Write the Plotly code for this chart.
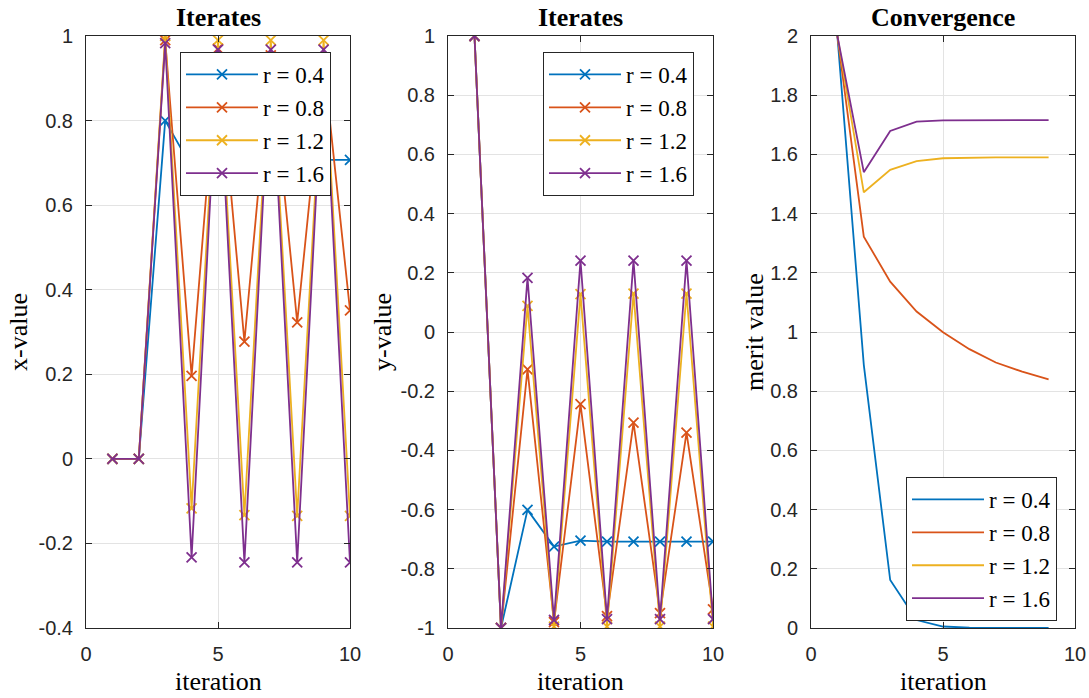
import plotly.graph_objects as go

iterations = [1, 2, 3, 4, 5, 6, 7, 8, 9, 10]
merit_iterations = [1, 2, 3, 4, 5, 6, 7, 8, 9]
labels = ["r = 0.4", "r = 0.8", "r = 1.2", "r = 1.6"]
colors = ["#0072BD", "#D95319", "#EDB120", "#7E2F8E"]

x_r04 = [0, 0, 0.80, 0.69, 0.71, 0.707, 0.707, 0.707, 0.707, 0.707]
x_r08 = [0, 0, 0.99, 0.196, 0.97, 0.277, 0.954, 0.323, 0.94, 0.351]
x_r12 = [0, 0, 1.00, -0.117, 0.99, -0.133, 0.99, -0.135, 0.99, -0.135]
x_r16 = [0, 0, 0.983, -0.233, 0.968, -0.245, 0.968, -0.245, 0.968, -0.245]

y_r04 = [1, -1, -0.601, -0.725, -0.705, -0.708, -0.708, -0.708, -0.708, -0.708]
y_r08 = [1, -1, -0.126, -0.98, -0.244, -0.96, -0.306, -0.95, -0.34, -0.937]
y_r12 = [1, -1, 0.088, -0.995, 0.128, -0.995, 0.13, -0.995, 0.13, -0.995]
y_r16 = [1, -1, 0.183, -0.973, 0.241, -0.97, 0.241, -0.97, 0.241, -0.97]

m_r04 = [2, 0.889, 0.162, 0.027, 0.005, 0.001, 0.0, 0.0, 0.0]
m_r08 = [2, 1.322, 1.17, 1.069, 0.999, 0.942, 0.897, 0.866, 0.84]
m_r12 = [2, 1.472, 1.548, 1.577, 1.587, 1.589, 1.590, 1.590, 1.590]
m_r16 = [2, 1.540, 1.679, 1.711, 1.715, 1.716, 1.716, 1.716, 1.716]

xs = [x_r04, x_r08, x_r12, x_r16]
ys = [y_r04, y_r08, y_r12, y_r16]
ms = [m_r04, m_r08, m_r12, m_r16]

W, H = 1089, 698
LW = 1.8
fig = go.Figure()

def marker(c):
    return dict(symbol="x-thin-open", size=10, line=dict(color=c, width=LW), color=c)

for i in range(4):
    fig.add_trace(go.Scatter(x=iterations, y=xs[i], mode="lines+markers", name=labels[i],
                             line=dict(color=colors[i], width=LW), marker=marker(colors[i]),
                             xaxis="x", yaxis="y", legend="legend"))
for i in range(4):
    fig.add_trace(go.Scatter(x=iterations, y=ys[i], mode="lines+markers", name=labels[i],
                             line=dict(color=colors[i], width=LW), marker=marker(colors[i]),
                             xaxis="x2", yaxis="y2", legend="legend2"))
for i in range(4):
    fig.add_trace(go.Scatter(x=merit_iterations, y=ms[i], mode="lines", name=labels[i],
                             line=dict(color=colors[i], width=LW),
                             xaxis="x3", yaxis="y3", legend="legend3"))

px = lambda v: v / W
py = lambda v: 1 - v / H

doms = [(86, 350), (448, 713), (811, 1075)]
ydom = [py(628), py(36)]
tickfont = dict(family="Liberation Sans, Arial", size=20, color="#262626")
axcommon = dict(showline=True, linecolor="#262626", linewidth=1, mirror="ticks", ticks="inside",
                ticklen=6, tickcolor="#262626", showgrid=True, gridcolor="#E3E3E3", gridwidth=1,
                zeroline=False, tickfont=tickfont, automargin=False)

yranges = [(-0.4, 1), (-1, 1), (0, 2)]
for k in range(3):
    sfx = "" if k == 0 else str(k + 1)
    fig.layout["xaxis" + sfx] = dict(domain=[px(doms[k][0]), px(doms[k][1])], range=[0, 10],
                                     tickvals=[0, 5, 10], ticktext=["0", "5", "10"],
                                     anchor="y" + sfx, ticklabelstandoff=8, **axcommon)
    lo, hi = yranges[k]
    n = int(round((hi - lo) / 0.2))
    tv = [round(lo + 0.2 * j, 1) for j in range(n + 1)]
    tt = [("%g" % v) for v in tv]
    fig.layout["yaxis" + sfx] = dict(domain=ydom, range=[lo, hi], tickvals=tv, ticktext=tt,
                                     anchor="x" + sfx, ticklabelstandoff=8, **axcommon)

legfont = dict(family="Liberation Serif, Times New Roman", size=23, color="black")
legcommon = dict(font=legfont, bgcolor="white", bordercolor="#262626", borderwidth=1,
                 xanchor="left", yanchor="top", tracegroupgap=0, itemwidth=72)
fig.update_layout(
    legend=dict(x=px(180), y=py(52), **legcommon),
    legend2=dict(x=px(543), y=py(52), **legcommon),
    legend3=dict(x=px(906), y=py(477), **legcommon),
)

serif = "Liberation Serif, Times New Roman"
titles = ["Iterates", "Iterates", "Convergence"]
ylabels = ["x-value", "y-value", "merit value"]
ann = []
for k in range(3):
    cx = (doms[k][0] + doms[k][1]) / 2
    ann.append(dict(text="<b>%s</b>" % titles[k], x=px(cx), y=py(18), xref="paper", yref="paper",
                    showarrow=False, font=dict(family=serif, size=26, color="black"),
                    xanchor="center", yanchor="middle"))
    ann.append(dict(text="iteration", x=px(cx), y=py(681), xref="paper", yref="paper",
                    showarrow=False, font=dict(family=serif, size=26, color="black"),
                    xanchor="center", yanchor="middle"))
ylx = [19, 383, 755]
for k in range(3):
    ann.append(dict(text=ylabels[k], x=px(ylx[k]), y=py(332), xref="paper", yref="paper",
                    showarrow=False, textangle=-90, font=dict(family=serif, size=26, color="black"),
                    xanchor="center", yanchor="middle"))

fig.update_layout(width=W, height=H, margin=dict(l=0, r=0, t=0, b=0), autosize=False,
                  plot_bgcolor="white", paper_bgcolor="white", annotations=ann)

fig.write_html("out.html")
